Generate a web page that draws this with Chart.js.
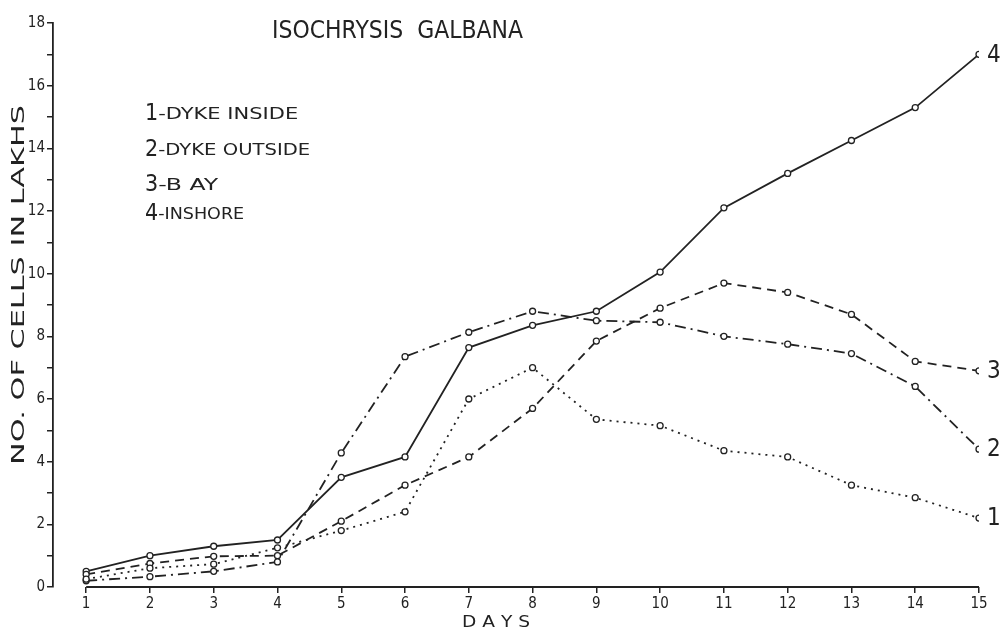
<!DOCTYPE html>
<html>
<head>
<meta charset="utf-8">
<script src="https://cdn.jsdelivr.net/npm/chart.js@4/dist/chart.umd.min.js"></script>
<style>
  html, body { margin: 0; padding: 0; background: #fff; }
  #wrap { width: 1002px; height: 631px; }
</style>
</head>
<body>
<div id="wrap"><canvas id="myChart" width="1002" height="631"></canvas></div>
<script>
var days = [1, 2, 3, 4, 5, 6, 7, 8, 9, 10, 11, 12, 13, 14, 15];
var dykeInside = [0.25, 0.6, 0.73, 1.25, 1.8, 2.4, 6.0, 7.0, 5.35, 5.15, 4.35, 4.15, 3.25, 2.85, 2.2];
var dykeOutside = [0.2, 0.33, 0.5, 0.8, 4.28, 7.35, 8.13, 8.8, 8.5, 8.45, 8.0, 7.75, 7.45, 6.4, 4.4];
var bay = [0.4, 0.75, 0.98, 1.0, 2.1, 3.25, 4.15, 5.7, 7.85, 8.9, 9.7, 9.4, 8.7, 7.2, 6.9];
var inshore = [0.5, 1.0, 1.3, 1.5, 3.5, 4.15, 7.64, 8.35, 8.8, 10.05, 12.1, 13.2, 14.25, 15.3, 17.0];
var yTicks = [0, 2, 4, 6, 8, 10, 12, 14, 16, 18];
var legendItems = [["1", "-DYKE INSIDE"], ["2", "-DYKE OUTSIDE"], ["3", "-B AY"], ["4", "-INSHORE"]];
var titleText = "ISOCHRYSIS  GALBANA";
var yTitle = "NO. OF CELLS IN LAKHS";
var xTitle = "D A Y S";

var ink = "#222222";
var fontName = "'DejaVu Sans Condensed', 'DejaVu Sans', sans-serif";
var wideFont = "'DejaVu Sans', sans-serif";

function pts(arr) {
    return days.map(function (d, i) { return { x: d, y: arr[i] }; });
}

function series(label, arr, dash, tag) {
    return {
        label: label,
        data: pts(arr),
        borderColor: ink,
        borderWidth: 1.8,
        borderDash: dash,
        pointRadius: 3,
        pointBorderWidth: 1.3,
        pointBackgroundColor: "#fff",
        pointBorderColor: ink,
        tension: 0,
        endTag: tag
    };
}

// squeeze text to a target width
function fitText(ctx, txt, x, y, w) {
    var m = ctx.measureText(txt).width;
    ctx.save();
    ctx.translate(x, y);
    ctx.scale(w / m, 1);
    ctx.fillText(txt, 0, 0);
    ctx.restore();
}

var decor = {
    id: "decor",
    afterDatasetsDraw: function (chart) {
        var ctx = chart.ctx;
        var xs = chart.scales.x, ys = chart.scales.y;
        ctx.save();
        ctx.fillStyle = ink;
        ctx.strokeStyle = ink;

        // x axis line from day 1 to day 15
        ctx.lineWidth = 1.8;
        ctx.beginPath();
        ctx.moveTo(xs.getPixelForValue(days[0]), ys.bottom);
        ctx.lineTo(xs.getPixelForValue(days[days.length - 1]), ys.bottom);
        ctx.stroke();

        // title
        ctx.textBaseline = "alphabetic";
        ctx.textAlign = "left";
        ctx.font = "24px " + wideFont;
        fitText(ctx, titleText, 272, 38, 251);

        // legend block
        legendItems.forEach(function (it, i) {
            var yy = [120, 156, 191, 220][i];
            ctx.font = "23px " + fontName;
            ctx.fillText(it[0], 145, yy);
            var nw = ctx.measureText(it[0]).width;
            ctx.font = "15px " + wideFont;
            var tw = [140, 152, 60, 86][i];
            fitText(ctx, it[1], 145 + nw, yy - 1, tw);
        });

        // y title
        ctx.save();
        ctx.translate(24, 285);
        ctx.rotate(-Math.PI / 2);
        ctx.textAlign = "left";
        ctx.font = "17px " + wideFont;
        fitText(ctx, yTitle, -180, 0, 360);
        ctx.restore();

        // x title
        ctx.font = "16px " + wideFont;
        fitText(ctx, xTitle, 462, 627, 68);

        // end tags
        ctx.font = "24px " + fontName;
        ctx.textBaseline = "middle";
        chart.data.datasets.forEach(function (ds, i) {
            var meta = chart.getDatasetMeta(i);
            var p = meta.data[meta.data.length - 1];
            ctx.fillText(ds.endTag, p.x + 8, p.y + 1);
        });
        ctx.restore();
    }
};

var myChart = document.getElementById("myChart");
var new_chart = new Chart(myChart, {
    type: "line",
    data: {
        datasets: [
            series("1-DYKE INSIDE", dykeInside, [2, 5], "1"),
            series("2-DYKE OUTSIDE", dykeOutside, [11, 5, 2, 5], "2"),
            series("3-BAY", bay, [9, 6], "3"),
            series("4-INSHORE", inshore, [], "4")
        ]
    },
    options: {
        responsive: false,
        maintainAspectRatio: false,
        animation: false,
        layout: { padding: { top: 23, right: 23, left: 0, bottom: 0 } },
        plugins: {
            legend: { display: false },
            tooltip: { enabled: false }
        },
        scales: {
            x: {
                type: "linear",
                min: 0.48,
                max: 15,
                afterBuildTicks: function (s) {
                    s.ticks = days.map(function (d) { return { value: d }; });
                },
                afterFit: function (s) { s.height = 44; },
                grid: { drawOnChartArea: false, drawTicks: true, tickLength: 6, color: ink, lineWidth: 1.5 },
                border: { display: false },
                ticks: {
                    color: ink,
                    font: { family: fontName, size: 15 },
                    padding: 2,
                    maxRotation: 0,
                    autoSkip: false
                }
            },
            y: {
                min: 0,
                max: 18,
                afterBuildTicks: function (s) {
                    var t = [];
                    for (var v = 0; v <= 18; v++) t.push({ value: v });
                    s.ticks = t;
                },
                afterFit: function (s) { s.width = 53; },
                grid: { drawOnChartArea: false, drawTicks: true, tickLength: 6, color: ink, lineWidth: 1.5 },
                border: { display: true, color: ink, width: 1.8 },
                ticks: {
                    color: ink,
                    font: { family: fontName, size: 15 },
                    padding: 2,
                    autoSkip: false,
                    callback: function (v) { return yTicks.indexOf(v) >= 0 ? v : ""; }
                }
            }
        }
    },
    plugins: [decor]
});
</script>
</body>
</html>
